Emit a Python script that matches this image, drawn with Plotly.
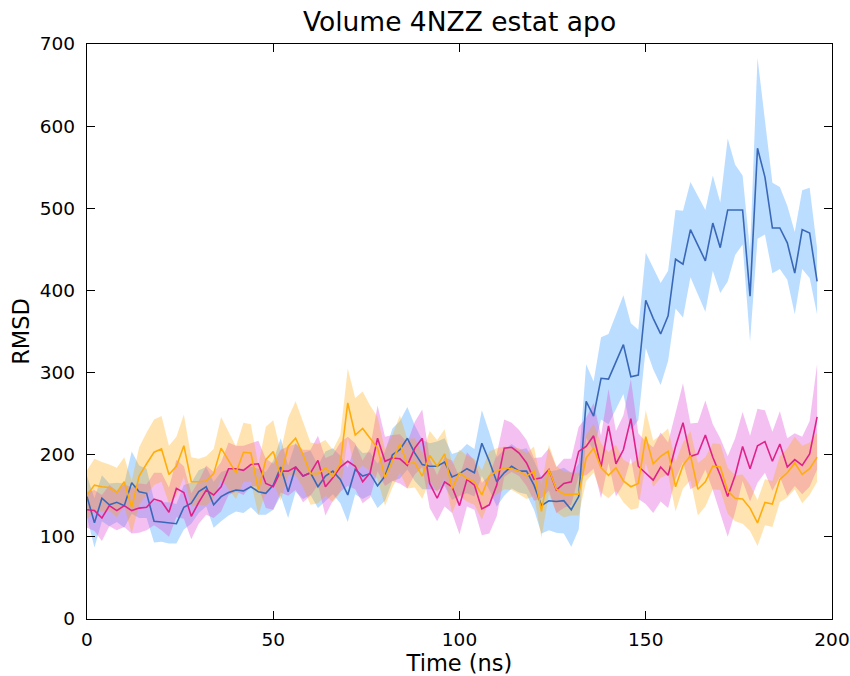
import numpy as np
import plotly.graph_objects as go

time_ns = list(range(0, 197, 2))

blue_mean = [149, 117, 147, 139, 142, 138, 166, 155, 153, 119, 118, 117, 116, 136, 141, 155, 161, 139,
             149, 154, 157, 156, 161, 155, 153, 163, 185, 155, 185, 174, 178, 161, 174, 180, 170,
             151, 182, 174, 177, 162, 174, 200, 206, 220, 202, 188, 186, 186, 191, 173, 177, 183,
             178, 214, 192, 167, 178, 186, 180, 180, 163, 138, 144, 143, 144, 133, 149, 265, 247,
             293, 292, 313, 334, 295, 297, 388, 366, 347, 369, 438, 432, 474, 455, 436, 482, 452,
             498, 498, 498, 393, 573, 538, 476, 476, 458, 421, 474, 470, 411]
blue_sd = [25, 30, 28, 26, 24, 27, 38, 32, 30, 26, 24, 25, 24, 27, 25, 26, 24, 28,
           30, 28, 26, 27, 25, 28, 26, 30, 35, 32, 30, 28, 27, 26, 30, 28, 29,
           33, 30, 28, 26, 27, 30, 32, 35, 38, 34, 30, 28, 30, 29, 28, 27, 30,
           29, 40, 35, 30, 28, 27, 26, 28, 30, 34, 36, 38, 40, 45, 40, 45, 42,
           50, 55, 58, 60, 65, 55, 58, 62, 62, 55, 60, 65, 58, 60, 62, 58, 55,
           87, 55, 42, 55, 110, 70, 55, 50, 45, 50, 48, 55, 40]

pink_mean = [133, 132, 123, 138, 132, 138, 132, 135, 136, 146, 143, 130, 159, 154, 125, 142, 157, 151,
             161, 183, 183, 181, 188, 189, 165, 161, 180, 180, 185, 174, 178, 193, 161, 172, 185,
             192, 186, 167, 178, 220, 192, 196, 195, 187, 208, 220, 165, 147, 167, 161, 138, 170,
             163, 134, 139, 163, 208, 209, 202, 190, 170, 172, 182, 157, 165, 167, 204, 210, 223,
             185, 235, 189, 206, 244, 186, 178, 169, 185, 175, 210, 239, 198, 201, 224, 197, 175,
             149, 175, 210, 183, 211, 216, 192, 213, 185, 194, 187, 201, 246]
pink_sd = [22, 25, 28, 25, 24, 26, 28, 30, 28, 32, 35, 30, 35, 32, 28, 26, 30, 28,
           30, 32, 28, 30, 26, 28, 30, 28, 26, 30, 28, 32, 28, 30, 35, 28, 30,
           30, 28, 26, 30, 40, 30, 28, 30, 28, 32, 35, 30, 28, 30, 32, 35, 33,
           30, 32, 35, 38, 35, 30, 28, 28, 26, 25, 26, 28, 30, 28, 30, 35, 40,
           38, 45, 40, 42, 48, 40, 38, 40, 42, 40, 40, 48, 40, 38, 42, 40, 45,
           49, 45, 42, 40, 45, 38, 36, 40, 35, 32, 35, 40, 64]

orange_mean = [151, 163, 161, 160, 154, 167, 136, 174, 189, 203, 207, 176, 186, 211, 167, 167, 168, 177,
               208, 193, 178, 203, 202, 157, 194, 204, 174, 210, 220, 200, 177, 177, 184, 174, 189,
               263, 224, 232, 220, 208, 172, 192, 213, 189, 190, 174, 199, 186, 201, 159, 178, 171,
               167, 151, 174, 180, 184, 183, 180, 174, 180, 131, 182, 158, 152, 152, 152, 196, 208,
               184, 175, 184, 168, 161, 165, 222, 189, 198, 204, 161, 187, 199, 158, 167, 186, 185,
               156, 147, 146, 135, 117, 142, 140, 170, 178, 190, 176, 183, 197]
orange_sd = [30, 32, 30, 28, 30, 30, 32, 35, 38, 40, 40, 35, 36, 38, 30, 28, 30, 30,
             38, 35, 32, 36, 35, 30, 40, 38, 30, 35, 45, 40, 38, 36, 34, 32, 35,
             42, 45, 45, 40, 38, 34, 32, 35, 30, 30, 28, 30, 32, 30, 30, 28, 28,
             28, 30, 30, 28, 26, 26, 28, 28, 30, 32, 30, 28, 28, 26, 26, 28, 30,
             30, 28, 28, 26, 28, 30, 32, 28, 26, 28, 30, 28, 30, 32, 30, 28, 28,
             28, 28, 30, 28, 28, 28, 28, 28, 30, 32, 35, 32, 30]

series = [
    ("blue", blue_mean, blue_sd, "#3a68b8", "rgba(30,144,255,0.30)"),
    ("pink", pink_mean, pink_sd, "#e0218a", "rgba(225,80,215,0.36)"),
    ("orange", orange_mean, orange_sd, "#ffad0d", "rgba(255,165,0,0.30)"),
]

fig = go.Figure()
x = np.array(time_ns, dtype=float)
n = len(x)
for name, m, s, lc, fc in series:
    m = np.array(m[:n], dtype=float)
    s = np.array(s[:n], dtype=float)
    up = m + s
    lo = m - s
    fig.add_trace(go.Scatter(
        x=np.concatenate([x, x[::-1]]), y=np.concatenate([up, lo[::-1]]),
        fill="toself", fillcolor=fc, line=dict(width=0), mode="lines",
        hoverinfo="skip", showlegend=False))
for name, m, s, lc, fc in series:
    fig.add_trace(go.Scatter(x=x, y=m[:n], mode="lines", name=name,
                             line=dict(color=lc, width=1.6), showlegend=False))

axis_common = dict(showline=True, linecolor="black", linewidth=1.3, mirror="ticks",
                   ticks="inside", ticklen=8, tickwidth=1, tickcolor="black",
                   showgrid=False, zeroline=False, automargin=False,
                   tickfont=dict(family="DejaVu Sans", size=18.5, color="black"))

fig.update_layout(
    width=850, height=676,
    margin=dict(l=87, r=18, t=44, b=57),
    paper_bgcolor="white", plot_bgcolor="white",
    title=dict(text="Volume 4NZZ estat apo", x=0.5, xanchor="center",
               xref="paper", y=1 - 22 / 676, yref="container", yanchor="middle",
               font=dict(family="DejaVu Sans", size=26.5, color="black")),
    xaxis=dict(range=[0, 200], tickvals=[0, 50, 100, 150, 200],
               title=dict(text="Time (ns)", font=dict(family="DejaVu Sans", size=22.5, color="black"),
                          standoff=7),
               ticklabelstandoff=4, **axis_common),
    yaxis=dict(range=[0, 700], tickvals=list(range(0, 701, 100)),
               title=dict(text="RMSD", font=dict(family="DejaVu Sans", size=22.5, color="black"),
                          standoff=3),
               ticklabelstandoff=7, **axis_common),
)

fig.write_html("out.html")
